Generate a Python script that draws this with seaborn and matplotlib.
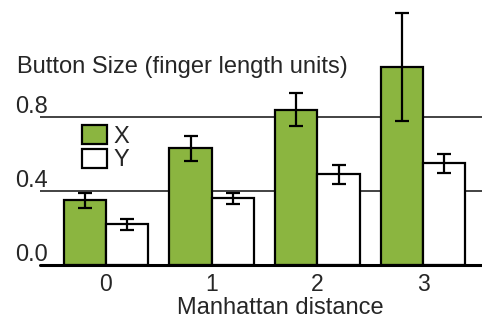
import matplotlib
matplotlib.use("Agg")
import matplotlib.pyplot as plt
import pandas as pd
import seaborn as sns

# values
distance = ["0", "1", "2", "3"]
x_size = [0.35, 0.63, 0.84, 1.07]
x_err = [0.04, 0.07, 0.09, 0.29]
y_size = [0.22, 0.36, 0.49, 0.55]
y_err = [0.03, 0.03, 0.05, 0.05]
y_ticks = [0.0, 0.4, 0.8]

green = "#8bb540"
fs = 17

sns.set_theme(style="white")
plt.rcParams["font.family"] = ["Liberation Sans", "DejaVu Sans"]

data = pd.DataFrame({
    "distance": distance * 2,
    "size": x_size + y_size,
    "axis": ["X"] * 4 + ["Y"] * 4,
})

fig = plt.figure(figsize=(4.82, 3.18), dpi=100)
ax = fig.add_axes([40 / 482, 53 / 318, 442 / 482, 265 / 318])

sns.barplot(data=data, x="distance", y="size", hue="axis",
            palette={"X": green, "Y": "white"}, edgecolor="black",
            linewidth=1.6, width=0.8, saturation=1, ax=ax, zorder=3)

for cont, err in zip(ax.containers, [x_err, y_err]):
    xs = [p.get_x() + p.get_width() / 2 for p in cont]
    hs = [p.get_height() for p in cont]
    ax.errorbar(xs, hs, yerr=err, fmt="none", ecolor="black",
                elinewidth=1.6, capsize=5, capthick=1.6, zorder=4)

for t in y_ticks[1:]:
    ax.axhline(t, color="#222222", lw=1.2, zorder=1)
ax.axhline(0, color="black", lw=2.2, zorder=5, clip_on=False)

ax.set_ylim(0, 265 / 185)
ax.set_xlim(-0.624, 3.557)
ax.set_yticks([])
sns.despine(ax=ax, left=True, bottom=True)
ax.tick_params(axis="x", length=0, pad=6, labelsize=16.5)
ax.set_xlabel("")
ax.set_ylabel("")

for t in y_ticks:
    ax.annotate(f"{t:.1f}", xy=(15, t), xycoords=("figure pixels", "data"),
                xytext=(0, 4), textcoords="offset pixels",
                ha="left", va="baseline", fontsize=fs)

fig.text(17 / 482, 1 - 73 / 318, "Button Size (finger length units)",
         ha="left", va="baseline", fontsize=fs)
fig.text(280 / 482, 1 - 314 / 318, "Manhattan distance",
         ha="center", va="baseline", fontsize=fs)

ax.legend(loc="upper left", bbox_to_anchor=(82 / 482, 1 - 125 / 318),
          bbox_transform=fig.transFigure, frameon=False, fontsize=fs,
          handlelength=1.05, handleheight=0.85, handletextpad=0.3,
          labelspacing=0.05, borderpad=0, borderaxespad=0)

fig.savefig("out.png", dpi=100)
